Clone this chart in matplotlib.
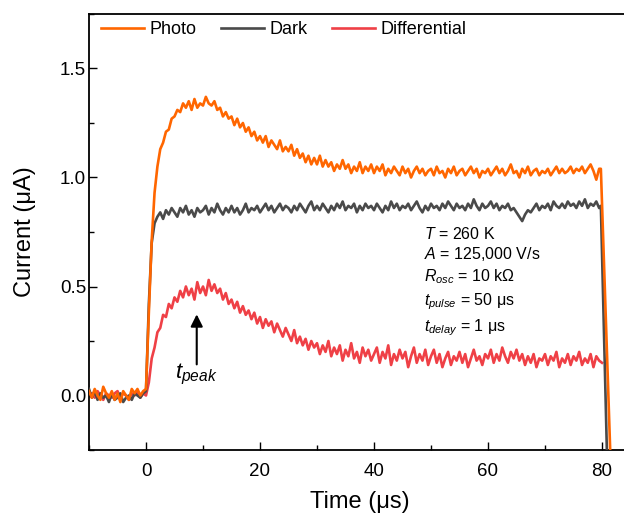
import numpy as np
import matplotlib
matplotlib.use('Agg')
import matplotlib.pyplot as plt
from matplotlib.ticker import MultipleLocator, FormatStrFormatter

plt.rcParams['font.family'] = ['Liberation Sans', 'DejaVu Sans']
plt.rcParams['mathtext.fontset'] = 'custom'
plt.rcParams['mathtext.rm'] = 'Liberation Sans'
plt.rcParams['mathtext.it'] = 'Liberation Sans:italic'

# time samples, every 0.5 us from -10 to 79.5
time = np.arange(-10, 79.6, 0.5)

photo = [
    0.02, -0.01, 0.03, 0.00, -0.02, 0.04, 0.01, -0.01, 0.02, -0.02,
    0.01, -0.03, 0.02, 0.00, -0.02, 0.03, 0.01, 0.03, 0.00, 0.02,
    0.03, 0.38, 0.71, 0.93, 1.05, 1.13, 1.16, 1.21, 1.22, 1.27,
    1.28, 1.31, 1.30, 1.34, 1.32, 1.35, 1.31, 1.36, 1.32, 1.34,
    1.33, 1.37, 1.34, 1.33, 1.35, 1.31, 1.32, 1.28, 1.30, 1.27,
    1.28, 1.24, 1.27, 1.23, 1.25, 1.21, 1.23, 1.19, 1.21, 1.17,
    1.19, 1.16, 1.19, 1.14, 1.17, 1.15, 1.13, 1.17, 1.12, 1.14,
    1.12, 1.15, 1.10, 1.13, 1.09, 1.11, 1.07, 1.10, 1.06, 1.09,
    1.06, 1.10, 1.05, 1.08, 1.05, 1.07, 1.03, 1.06, 1.04, 1.08,
    1.04, 1.06, 1.02, 1.05, 1.03, 1.07, 1.02, 1.05, 1.03, 1.06,
    1.02, 1.05, 1.03, 1.06, 1.01, 1.04, 1.02, 1.05, 1.03, 1.01,
    1.05, 1.02, 1.04, 1.00, 1.03, 1.05, 1.02, 1.04, 1.01, 1.03,
    1.04, 1.01, 1.05, 1.02, 1.03, 1.00, 1.04, 1.02, 1.05, 1.01,
    1.03, 1.04, 1.01, 1.03, 1.05, 1.02, 1.04, 1.00, 1.03, 1.02,
    1.04, 1.01, 1.03, 1.05, 1.02, 1.04, 1.01, 1.03, 1.06, 1.02,
    1.03, 1.00, 1.04, 1.02, 1.05, 1.01, 1.03, 1.04, 1.01, 1.03,
    1.02, 1.04, 1.01, 1.03, 1.05, 1.02, 1.04, 1.02, 1.03, 1.05,
    1.02, 1.04, 1.03, 1.05, 1.02, 1.04, 1.06, 1.03, 0.99, 1.04,
]

dark = [
    0.03, -0.01, 0.02, -0.02, 0.01, -0.01, 0.00, -0.03, 0.01, -0.02,
    -0.01, 0.01, -0.03, -0.01, 0.00, -0.02, 0.01, 0.00, -0.01, 0.01,
    0.02, 0.42, 0.70, 0.79, 0.82, 0.84, 0.81, 0.85, 0.83, 0.86,
    0.84, 0.82, 0.86, 0.84, 0.87, 0.83, 0.85, 0.82, 0.86, 0.84,
    0.85, 0.87, 0.83, 0.86, 0.84, 0.88, 0.85, 0.83, 0.86, 0.84,
    0.87, 0.84, 0.86, 0.83, 0.85, 0.88, 0.84, 0.86, 0.85, 0.87,
    0.84, 0.86, 0.88, 0.85, 0.87, 0.84, 0.86, 0.88, 0.85, 0.87,
    0.86, 0.84, 0.87, 0.85, 0.88, 0.86, 0.84, 0.87, 0.89, 0.85,
    0.87, 0.85, 0.88, 0.86, 0.84, 0.87, 0.85, 0.88, 0.86, 0.89,
    0.85, 0.87, 0.86, 0.88, 0.84, 0.87, 0.85, 0.88, 0.86, 0.87,
    0.85, 0.88, 0.86, 0.84, 0.87, 0.85, 0.89, 0.86, 0.88, 0.85,
    0.87, 0.86, 0.88, 0.85, 0.87, 0.89, 0.86, 0.84, 0.87, 0.85,
    0.88, 0.86, 0.87, 0.85, 0.88, 0.86, 0.89, 0.87, 0.85, 0.88,
    0.86, 0.87, 0.85, 0.88, 0.86, 0.90, 0.87, 0.85, 0.88, 0.86,
    0.87, 0.89, 0.86, 0.88, 0.85, 0.87, 0.86, 0.88, 0.85, 0.86,
    0.84, 0.82, 0.80, 0.83, 0.85, 0.84, 0.86, 0.88, 0.85, 0.87,
    0.86, 0.88, 0.85, 0.89, 0.87, 0.86, 0.88, 0.86, 0.89, 0.87,
    0.88, 0.86, 0.89, 0.87, 0.90, 0.86, 0.88, 0.87, 0.89, 0.86,
]

differential = [
    0.00, 0.01, -0.01, 0.02, 0.00, -0.02, 0.01, 0.00, -0.01, 0.01,
    0.02, -0.01, 0.01, 0.00, -0.02, 0.01, 0.00, 0.02, -0.01, 0.01,
    0.00, 0.06, 0.17, 0.22, 0.29, 0.31, 0.37, 0.36, 0.42, 0.40,
    0.45, 0.43, 0.48, 0.45, 0.50, 0.46, 0.49, 0.44, 0.52, 0.47,
    0.50, 0.46, 0.53, 0.48, 0.51, 0.47, 0.49, 0.44, 0.47, 0.42,
    0.44, 0.40, 0.43, 0.38, 0.41, 0.37, 0.39, 0.35, 0.38, 0.33,
    0.36, 0.31, 0.35, 0.32, 0.34, 0.29, 0.33, 0.30, 0.27, 0.31,
    0.28, 0.25, 0.30, 0.24, 0.27, 0.23, 0.26, 0.21, 0.25, 0.22,
    0.24, 0.19, 0.23, 0.20, 0.25, 0.18, 0.22, 0.19, 0.23, 0.16,
    0.21, 0.18, 0.24, 0.17, 0.20, 0.15, 0.22, 0.18, 0.21, 0.16,
    0.19, 0.22, 0.15, 0.20, 0.17, 0.23, 0.14, 0.19, 0.16, 0.21,
    0.17, 0.20, 0.13, 0.18, 0.22, 0.15, 0.19, 0.16, 0.21, 0.14,
    0.18, 0.21, 0.15, 0.19, 0.13, 0.17, 0.20, 0.14, 0.18, 0.16,
    0.20, 0.15, 0.19, 0.13, 0.17, 0.21, 0.16, 0.18, 0.14, 0.19,
    0.17, 0.21, 0.15, 0.19, 0.16, 0.22, 0.18, 0.15, 0.20, 0.17,
    0.21, 0.16, 0.19, 0.14, 0.18, 0.15, 0.19, 0.13, 0.17, 0.16,
    0.19, 0.14, 0.18, 0.16, 0.20, 0.13, 0.17, 0.15, 0.19, 0.14,
    0.18, 0.16, 0.20, 0.14, 0.17, 0.15, 0.19, 0.13, 0.18, 0.16,
]

# pulse switch-off at the end of the trace
photo_tail_t = [79.8, 81.5]
photo_tail = [1.04, -0.30]
dark_tail_t = [79.8, 80.9]
dark_tail = [0.87, -0.30]
diff_tail_t = [80.0]
diff_tail = [0.15]

params = ['$T$ = 260 K', '$A$ = 125,000 V/s', r'$R_{osc}$ = 10 k$\Omega$',
          '$t_{pulse}$ = 50 μs', '$t_{delay}$ = 1 μs']
params_y = [0.72, 0.625, 0.525, 0.415, 0.295]

c_photo = '#ff6600'
c_dark = '#4a4a4a'
c_diff = '#ef4046'

fig = plt.figure(figsize=(6.24, 5.15), dpi=100)
ax = fig.add_axes([89 / 624, 65 / 515, 541.5 / 624, 436 / 515])

ld, = ax.plot(np.concatenate([time, diff_tail_t]), differential + diff_tail,
              color=c_diff, lw=1.9, label='Differential', zorder=2)
lk, = ax.plot(np.concatenate([time, dark_tail_t]), dark + dark_tail,
              color=c_dark, lw=1.9, label='Dark', zorder=3)
lp, = ax.plot(np.concatenate([time, photo_tail_t]), photo + photo_tail,
              color=c_photo, lw=1.9, label='Photo', zorder=4)

ax.set_xlim(-10, 85)
ax.set_ylim(-0.25, 1.75)
ax.xaxis.set_major_locator(MultipleLocator(20))
ax.xaxis.set_minor_locator(MultipleLocator(10))
ax.yaxis.set_major_locator(MultipleLocator(0.5))
ax.yaxis.set_minor_locator(MultipleLocator(0.25))
ax.yaxis.set_major_formatter(FormatStrFormatter('%.1f'))
ax.tick_params(which='major', direction='in', length=6, width=1.0,
               labelsize=13.5)
ax.tick_params(axis='x', which='major', pad=9)
ax.tick_params(axis='y', which='major', pad=2)
ax.tick_params(which='minor', direction='in', length=3.5, width=1.0)
for s in ax.spines.values():
    s.set_linewidth(1.3)

ax.set_xlabel('Time (μs)', fontsize=17, labelpad=8.5)
ax.set_ylabel('Current (μA)', fontsize=17, labelpad=17)

ax.legend(handles=[lp, lk, ld], loc='upper left', ncol=3, frameon=False,
          fontsize=13, handlelength=2.4, handletextpad=0.3,
          columnspacing=1.35, borderaxespad=0, bbox_to_anchor=(0.008, 1.0))

for txt, yy in zip(params, params_y):
    ax.text(48.7, yy, txt, fontsize=11.5, ha='left', va='baseline')

ax.annotate('', xy=(8.9, 0.385), xytext=(8.9, 0.13),
            arrowprops=dict(arrowstyle='-|>', color='k', lw=1.5,
                            mutation_scale=18))
ax.text(8.9, 0.095, '$t_{peak}$', fontsize=16, ha='center', va='center')

fig.savefig('out.png', dpi=100)
